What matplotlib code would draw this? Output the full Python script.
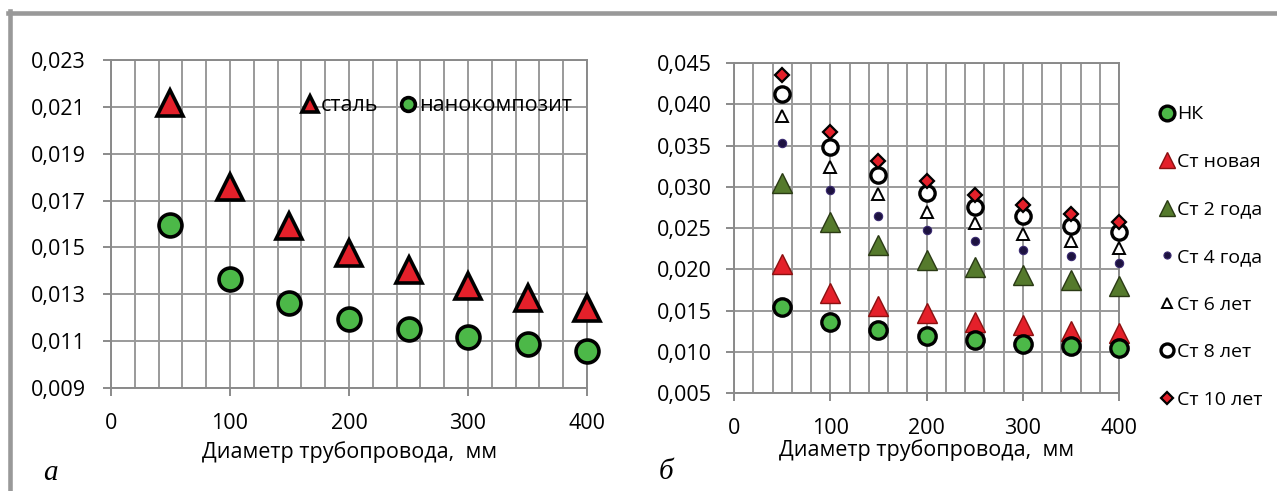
import matplotlib
matplotlib.use("Agg")
import matplotlib.pyplot as plt
import numpy as np
from matplotlib.ticker import FuncFormatter, MultipleLocator
from matplotlib.lines import Line2D

plt.rcParams['font.family'] = ['Open Sans', 'DejaVu Sans']

# data
diam = [50, 100, 150, 200, 250, 300, 350, 400]

# panel a
steel_a = [0.02117, 0.01758, 0.01591, 0.01476, 0.01404, 0.01335, 0.01284, 0.01241]
nano_a = [0.01596, 0.01365, 0.01263, 0.01195, 0.01152, 0.01118, 0.01088, 0.01058]

# panel b
nk = [0.01544, 0.01363, 0.01262, 0.0119, 0.01142, 0.01093, 0.01073, 0.01049]
st_new = [0.02068, 0.01713, 0.01552, 0.01464, 0.01363, 0.01323, 0.01254, 0.01223]
st_2 = [0.03042, 0.02571, 0.02289, 0.02117, 0.02027, 0.01927, 0.01867, 0.01794]
st_4 = [0.0353, 0.02962, 0.02648, 0.02479, 0.02341, 0.02229, 0.02156, 0.0208]
st_6 = [0.0386, 0.03235, 0.02914, 0.02692, 0.02559, 0.02431, 0.02341, 0.02262]
st_8 = [0.04129, 0.03477, 0.03143, 0.02921, 0.0276, 0.0264, 0.02519, 0.0245]
st_10 = [0.04355, 0.0367, 0.03308, 0.03075, 0.02905, 0.02785, 0.02672, 0.02571]

RED = '#e4202a'
GREEN = '#4cb848'
OLIVE = '#557a2c'
NAVY = '#1d1240'
GRID = '#9a9a9a'
FS = 15.5


def comma(v, pos):
    return f'{v:.3f}'.replace('.', ',')


def style_axes(ax, ylo, yhi, ystep, ypad, lpad):
    ax.set_xlim(0, 400)
    ax.set_ylim(ylo, yhi)
    ax.xaxis.set_major_locator(MultipleLocator(100))
    ax.xaxis.set_minor_locator(MultipleLocator(20))
    ax.set_yticks(np.linspace(ylo, yhi, int(round((yhi - ylo) / ystep)) + 1))
    ax.yaxis.set_major_formatter(FuncFormatter(comma))
    ax.grid(True, which='major', axis='y', color=GRID, lw=1.4)
    ax.grid(True, which='both', axis='x', color=GRID, lw=1.4)
    ax.set_axisbelow(True)
    for s in ax.spines.values():
        s.set_color('#8a8a8a')
        s.set_linewidth(1.4)
    ax.tick_params(axis='x', which='major', length=6, width=1.4, color='#8a8a8a',
                   labelsize=FS, pad=12)
    ax.tick_params(axis='x', which='minor', length=0)
    ax.tick_params(axis='y', length=6, width=1.4, color='#8a8a8a',
                   labelsize=FS, pad=ypad)
    ax.set_xlabel('Диаметр трубопровода,  мм', fontsize=FS, labelpad=lpad)


fig = plt.figure(figsize=(12.77, 4.91), dpi=100)

# panel a
ax1 = fig.add_axes([0.0869, 0.2098, 0.3728, 0.668])
style_axes(ax1, 0.009, 0.023, 0.002, 12, 5)
ax1.plot(diam, steel_a, ls='none', marker='^', ms=19, mfc=RED, mec='black',
         mew=2.6, label='сталь', zorder=3, clip_on=False)
ax1.plot(diam, nano_a, ls='none', marker='o', ms=16.5, mfc=GREEN, mec='black',
         mew=2.6, label='нанокомпозит', zorder=3, clip_on=False)
ax1.legend(loc='center left', bbox_to_anchor=(0.40, 0.86), ncol=2, frameon=False,
           fontsize=FS, markerscale=0.6, handlelength=0.8, handletextpad=0.1,
           columnspacing=1.0, borderpad=0, borderaxespad=0)

# panel b
ax2 = fig.add_axes([0.5748, 0.1996, 0.3015, 0.672])
style_axes(ax2, 0.005, 0.045, 0.005, 10, 0)
ax2.plot(diam, st_4, ls='none', marker='o', ms=6, mfc=NAVY, mec='#3a2a70',
         mew=0.8, label='Ст 4 года', zorder=3, clip_on=False)
ax2.plot(diam, st_6, ls='none', marker='^', ms=9, mfc='white', mec='black',
         mew=1.4, label='Ст 6 лет', zorder=3, clip_on=False)
ax2.plot(diam, st_8, ls='none', marker='o', ms=11, mfc='white', mec='black',
         mew=2.4, label='Ст 8 лет', zorder=3, clip_on=False)
ax2.plot(diam, st_10, ls='none', marker='D', ms=7, mfc=RED, mec='black',
         mew=1.6, label='Ст 10 лет', zorder=4, clip_on=False)
ax2.plot(diam, st_2, ls='none', marker='^', ms=14, mfc=OLIVE, mec='#2a3a14',
         mew=1.0, label='Ст 2 года', zorder=3, clip_on=False)
ax2.plot(diam, st_new, ls='none', marker='^', ms=14, mfc=RED, mec='#8a1010',
         mew=1.0, label='Ст новая', zorder=3, clip_on=False)
ax2.plot(diam, nk, ls='none', marker='o', ms=12.5, mfc=GREEN, mec='black',
         mew=2.4, label='НК', zorder=5, clip_on=False)

order = ['НК', 'Ст новая', 'Ст 2 года', 'Ст 4 года', 'Ст 6 лет', 'Ст 8 лет', 'Ст 10 лет']
hand, labl = ax2.get_legend_handles_labels()
lookup = dict(zip(labl, hand))
ax2.legend([lookup[k] for k in order], order, loc='center left',
           bbox_to_anchor=(1.105, 0.412), frameon=False, fontsize=14,
           markerscale=0.85, handlelength=0.8, handletextpad=0.1,
           labelspacing=1.52, borderpad=0, borderaxespad=0)

# panel letters
fig.text(0.034, 0.037, 'а', fontsize=21, style='italic',
         family='Liberation Serif', va='center')
fig.text(0.516, 0.039, 'б', fontsize=21, style='italic',
         family='Liberation Serif', va='center')

# gray frame
fig.add_artist(Line2D([8 / 1277, 1], [1 - 13 / 491, 1 - 13 / 491], color='#999999',
                      lw=3.3, transform=fig.transFigure))
fig.add_artist(Line2D([10 / 1277, 10 / 1277], [0, 1 - 11 / 491], color='#999999',
                      lw=3.3, transform=fig.transFigure))

fig.savefig('out.png', dpi=100)
